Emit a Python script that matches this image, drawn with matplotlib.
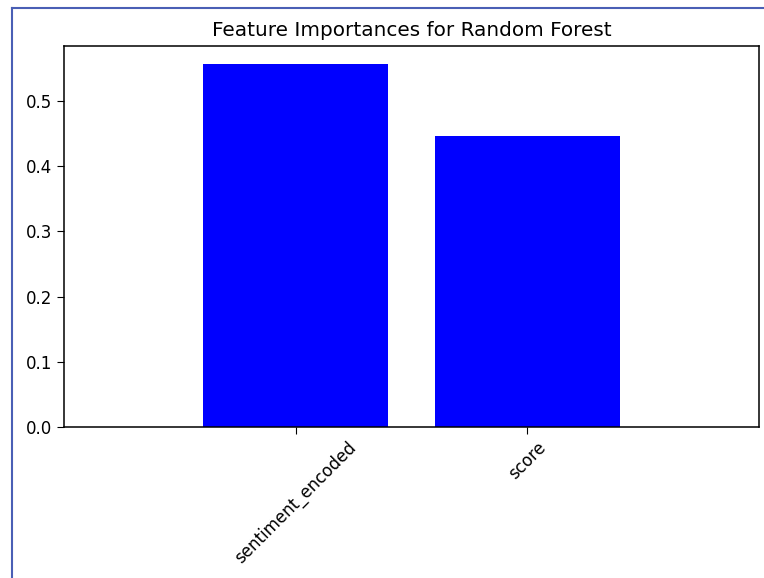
import matplotlib
matplotlib.use('Agg')
from matplotlib import pyplot as plt
from matplotlib.lines import Line2D

features = ['sentiment_encoded', 'score']
importances = [0.557, 0.446]

W, H = 764, 578

plt.rcParams['font.size'] = 12
plt.rcParams['axes.titlesize'] = 14.4
plt.rcParams['xtick.major.size'] = 5
plt.rcParams['ytick.major.size'] = 5
plt.rcParams['axes.linewidth'] = 1.1

fig = plt.figure(figsize=(W / 100, H / 100), dpi=100)
ax = fig.add_axes([64 / W, 1 - 426.7 / H, (759 - 64) / W, (426.7 - 46) / H])
ax.bar(features, importances, color='blue')
ax.set_xlim(-1, 2)
ax.set_title('Feature Importances for Random Forest', pad=7)
plt.setp(ax.get_xticklabels(), rotation=45)

# screenshot frame on the left and top
frame_col = '#4a5fb5'
fig.add_artist(Line2D([12 / W, 12 / W], [0, 1 - 8 / H], color=frame_col, lw=1.5))
fig.add_artist(Line2D([12 / W, 1], [1 - 8 / H, 1 - 8 / H], color=frame_col, lw=1.5))

fig.savefig('out.png', dpi=100)
